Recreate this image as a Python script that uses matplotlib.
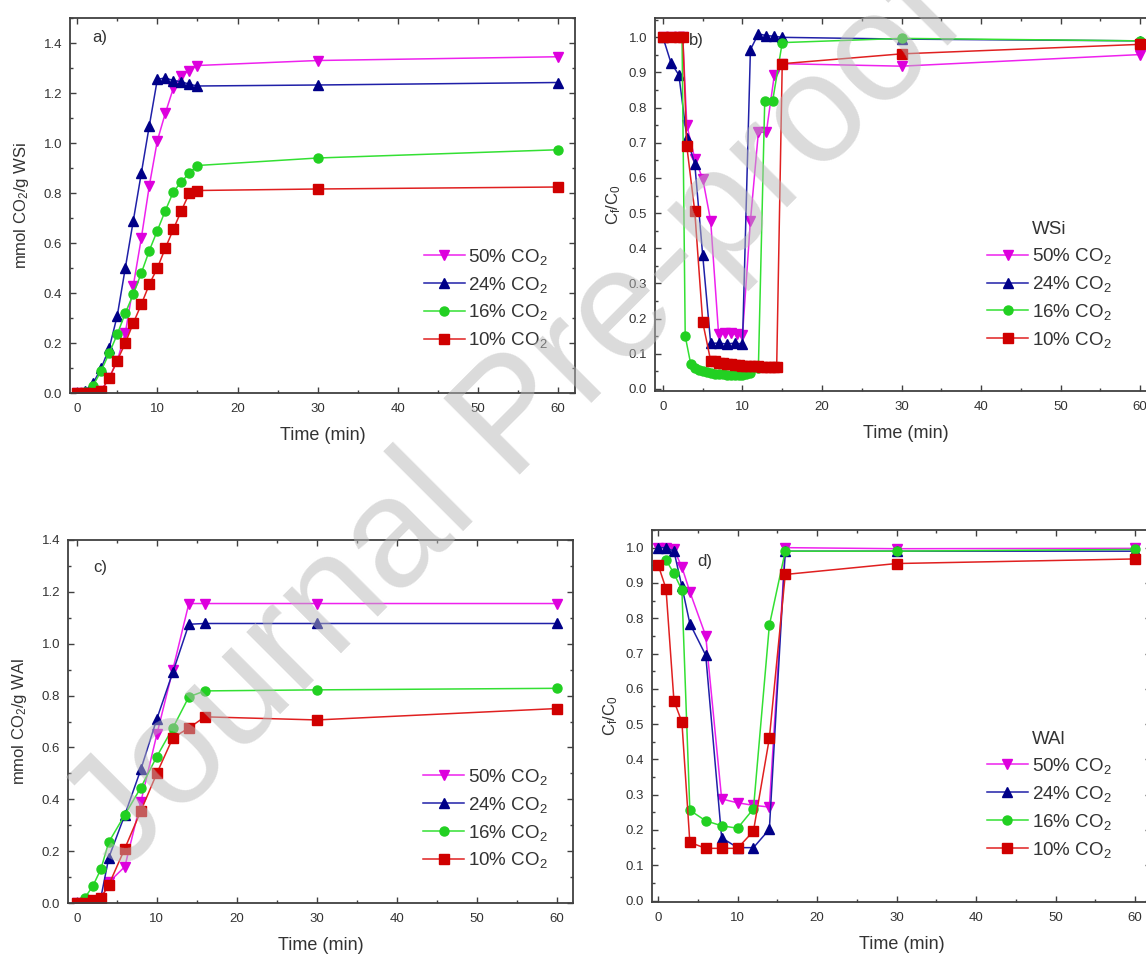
import matplotlib
matplotlib.use("Agg")
import matplotlib.pyplot as plt
from matplotlib.ticker import MultipleLocator
from matplotlib.lines import Line2D

plt.rcParams['font.family'] = ['Liberation Sans', 'DejaVu Sans']
plt.rcParams['mathtext.default'] = 'regular'

# ---------------- data ----------------
labels = ['50% CO$_2$', '24% CO$_2$', '16% CO$_2$', '10% CO$_2$']

# panel a (WSi uptake)
a_t = [0, 1, 2, 3, 4, 5, 6, 7, 8, 9, 10, 11, 12, 13, 14, 15, 30, 60]
a_50 = [0, 0, 0, 0.01, 0.06, 0.13, 0.24, 0.43, 0.62, 0.83, 1.01, 1.12, 1.22, 1.27, 1.29, 1.31, 1.33, 1.345]
a_24 = [0, 0.01, 0.04, 0.10, 0.18, 0.31, 0.50, 0.69, 0.88, 1.07, 1.255, 1.26, 1.25, 1.245, 1.235, 1.228, 1.232, 1.242]
a_16 = [0, 0.005, 0.03, 0.09, 0.16, 0.235, 0.32, 0.395, 0.48, 0.57, 0.65, 0.73, 0.805, 0.845, 0.88, 0.91, 0.94, 0.973]
a_10 = [0, 0, 0, 0.01, 0.06, 0.13, 0.20, 0.28, 0.355, 0.435, 0.50, 0.58, 0.655, 0.73, 0.80, 0.81, 0.816, 0.824]

# panel b (WSi breakthrough)
b50_t = [0, 1, 2, 2.5, 3, 4, 5, 6, 7, 7.75, 8.5, 9.25, 10, 11, 12, 13, 14, 15, 30, 60]
b50 = [1, 1, 1, 1, 0.75, 0.655, 0.598, 0.478, 0.155, 0.158, 0.158, 0.155, 0.152, 0.478, 0.73, 0.73, 0.892, 0.925, 0.918, 0.951]
b24_t = [0, 1, 2, 3, 4, 5, 6, 7, 8, 9, 10, 11, 12, 13, 14, 15, 30, 60]
b24 = [1.0, 0.928, 0.893, 0.715, 0.64, 0.38, 0.13, 0.13, 0.128, 0.13, 0.128, 0.965, 1.01, 1.005, 1.003, 1.0, 0.995, 0.99]
b16_t = [0, 1, 2, 2.4, 2.8, 3.5, 4, 4.5, 5, 5.5, 6, 6.5, 7, 7.5, 8, 8.5, 9, 9.5, 10, 10.5, 11, 12, 12.8, 13.8, 15, 30, 60]
b16 = [1, 1, 1, 1, 0.15, 0.07, 0.06, 0.055, 0.05, 0.047, 0.045, 0.043, 0.042, 0.041, 0.04, 0.04, 0.04, 0.04, 0.04, 0.042, 0.045, 0.06, 0.82, 0.82, 0.985, 0.997, 0.99]
b10_t = [0, 1, 2, 2.5, 3, 4, 5, 6, 6.5, 7, 7.5, 8, 8.5, 9, 9.5, 10, 10.5, 11, 11.5, 12, 12.5, 13, 13.5, 14, 14.3, 15, 30, 60]
b10 = [1, 1, 1, 1, 0.69, 0.505, 0.19, 0.08, 0.078, 0.075, 0.073, 0.071, 0.07, 0.068, 0.067, 0.066, 0.065, 0.065, 0.064, 0.064, 0.063, 0.063, 0.063, 0.062, 0.062, 0.925, 0.953, 0.98]

# panel c (WAl uptake)
c_t = [0, 1, 2, 3, 4, 6, 8, 10, 12, 14, 16, 30, 60]
c_50 = [0, 0, 0.005, 0.01, 0.08, 0.14, 0.39, 0.65, 0.90, 1.155, 1.155, 1.155, 1.155]
c_24 = [0, 0, 0.01, 0.02, 0.175, 0.34, 0.515, 0.71, 0.89, 1.075, 1.078, 1.078, 1.078]
c_16 = [0, 0.02, 0.065, 0.13, 0.235, 0.34, 0.445, 0.565, 0.675, 0.795, 0.818, 0.822, 0.828]
c_10 = [0, 0, 0.01, 0.02, 0.07, 0.21, 0.355, 0.50, 0.637, 0.675, 0.718, 0.706, 0.75]

# panel d (WAl breakthrough)
d_t = [0, 1, 2, 3, 4, 6, 8, 10, 12, 14, 16, 30, 60]
d_50 = [1.0, 1.0, 0.995, 0.945, 0.875, 0.75, 0.288, 0.277, 0.27, 0.265, 1.0, 0.997, 0.998]
d_24 = [1.0, 1.0, 0.99, 0.89, 0.785, 0.695, 0.178, 0.15, 0.15, 0.202, 0.99, 0.99, 0.99]
d16_t = [1, 2, 3, 4, 6, 8, 10, 12, 14, 16, 30, 60]
d_16 = [0.965, 0.927, 0.88, 0.256, 0.226, 0.212, 0.205, 0.26, 0.78, 0.99, 0.99, 0.995]
d_10 = [0.952, 0.884, 0.566, 0.506, 0.165, 0.148, 0.148, 0.148, 0.197, 0.46, 0.924, 0.955, 0.968]

# ---------------- styles ----------------
styles = [
    dict(color='#ee22ee', marker='v', mfc='#dd00dd', mec='#dd00dd'),
    dict(color='#2020a8', marker='^', mfc='#000088', mec='#000088'),
    dict(color='#33e033', marker='o', mfc='#22d022', mec='#22d022'),
    dict(color='#e02020', marker='s', mfc='#d00000', mec='#d00000'),
]
TXT = '#333333'
SP = '#404040'

W, H = 1146, 958
fig = plt.figure(figsize=(W / 100, H / 100), dpi=100)

def axpos(l, r, t, b):
    return [l / W, 1 - b / H, (r - l) / W, (b - t) / H]

def style_axes(ax, ymajor, yminor):
    ax.xaxis.set_major_locator(MultipleLocator(10))
    ax.xaxis.set_minor_locator(MultipleLocator(5))
    ax.yaxis.set_major_locator(MultipleLocator(ymajor))
    ax.yaxis.set_minor_locator(MultipleLocator(yminor))
    ax.tick_params(which='both', direction='in', top=True, right=True,
                   colors=SP, labelcolor=TXT, labelsize=9.5, width=1)
    ax.tick_params(which='major', length=4)
    ax.tick_params(which='minor', length=2.5)
    ax.tick_params(axis='x', which='major', pad=7)
    ax.tick_params(axis='y', which='major', pad=5.5)
    for s in ax.spines.values():
        s.set_color(SP)
        s.set_linewidth(1.3)
    ax.set_xlabel('Time (min)', fontsize=13, color=TXT, labelpad=9)

def draw(ax, series):
    handles = []
    for (t, y), st, lab in zip(series, styles, labels):
        h, = ax.plot(t, y, color=st['color'], marker=st['marker'], mfc=st['mfc'],
                     mec=st['mec'], ms=6.5, lw=1.1, label=lab)
        handles.append(h)
    return handles

def add_legend(ax, handles, x, y, title=None):
    hs = list(handles)
    labs = list(labels)
    if title:
        hs = [Line2D([], [], alpha=0)] + hs
        labs = [title] + labs
    leg = ax.legend(hs, labs, loc='upper left', bbox_to_anchor=(x, y), frameon=False,
                    fontsize=13.5, borderpad=0, handlelength=2.2, handletextpad=0.2,
                    labelspacing=0.42, borderaxespad=0)
    for tx in leg.get_texts():
        tx.set_color(TXT)

# panel a
ax = fig.add_axes(axpos(70, 575, 18, 393))
hs = draw(ax, [(a_t, a_50), (a_t, a_24), (a_t, a_16), (a_t, a_10)])
ax.set_xlim(-0.9, 62.1)
ax.set_ylim(0, 1.5)
style_axes(ax, 0.2, 0.1)
ax.set_ylabel('mmol CO$_2$/g WSi', fontsize=12, color=TXT, labelpad=9)
ax.text(0.045, 0.947, 'a)', transform=ax.transAxes, fontsize=12, color=TXT, va='center')
add_legend(ax, hs, 0.70, 0.39)

# panel b
ax = fig.add_axes(axpos(655, 1156, 18, 391))
hs = draw(ax, [(b50_t, b50), (b24_t, b24), (b16_t, b16), (b10_t, b10)])
ax.set_xlim(-1.0, 62)
ax.set_ylim(-0.006, 1.055)
style_axes(ax, 0.1, 0.05)
ax.set_ylabel('C$_f$/C$_0$', fontsize=12, color=TXT, labelpad=4)
ax.text(0.068, 0.94, 'b)', transform=ax.transAxes, fontsize=12, color=TXT, va='center')
add_legend(ax, hs, 0.663, 0.455, title='WSi')

# panel c
ax = fig.add_axes(axpos(68, 573, 540, 903))
hs = draw(ax, [(c_t, c_50), (c_t, c_24), (c_t, c_16), (c_t, c_10)])
ax.set_xlim(-1.1, 62)
ax.set_ylim(0, 1.4)
style_axes(ax, 0.2, 0.1)
ax.set_ylabel('mmol CO$_2$/g WAl', fontsize=12, color=TXT, labelpad=9)
ax.text(0.05, 0.923, 'c)', transform=ax.transAxes, fontsize=12, color=TXT, va='center')
add_legend(ax, hs, 0.703, 0.375)

# panel d
ax = fig.add_axes(axpos(652, 1151, 530, 902))
hs = draw(ax, [(d_t, d_50), (d_t, d_24), (d16_t, d_16), (d_t, d_10)])
ax.set_xlim(-0.76, 62)
ax.set_ylim(-0.004, 1.05)
style_axes(ax, 0.1, 0.05)
ax.set_ylabel('C$_f$/C$_0$', fontsize=12, color=TXT, labelpad=4)
ax.text(0.09, 0.914, 'd)', transform=ax.transAxes, fontsize=12, color=TXT, va='center')
add_legend(ax, hs, 0.671, 0.46, title='WAl')

# watermark
fig.text(545 / W, 1 - 450 / H, 'Journal Pre-proof', rotation=45, ha='center', va='baseline',
         rotation_mode='anchor', fontsize=112, color='#b8b8b8', alpha=0.5, zorder=20)

fig.savefig('out.png', dpi=100)
